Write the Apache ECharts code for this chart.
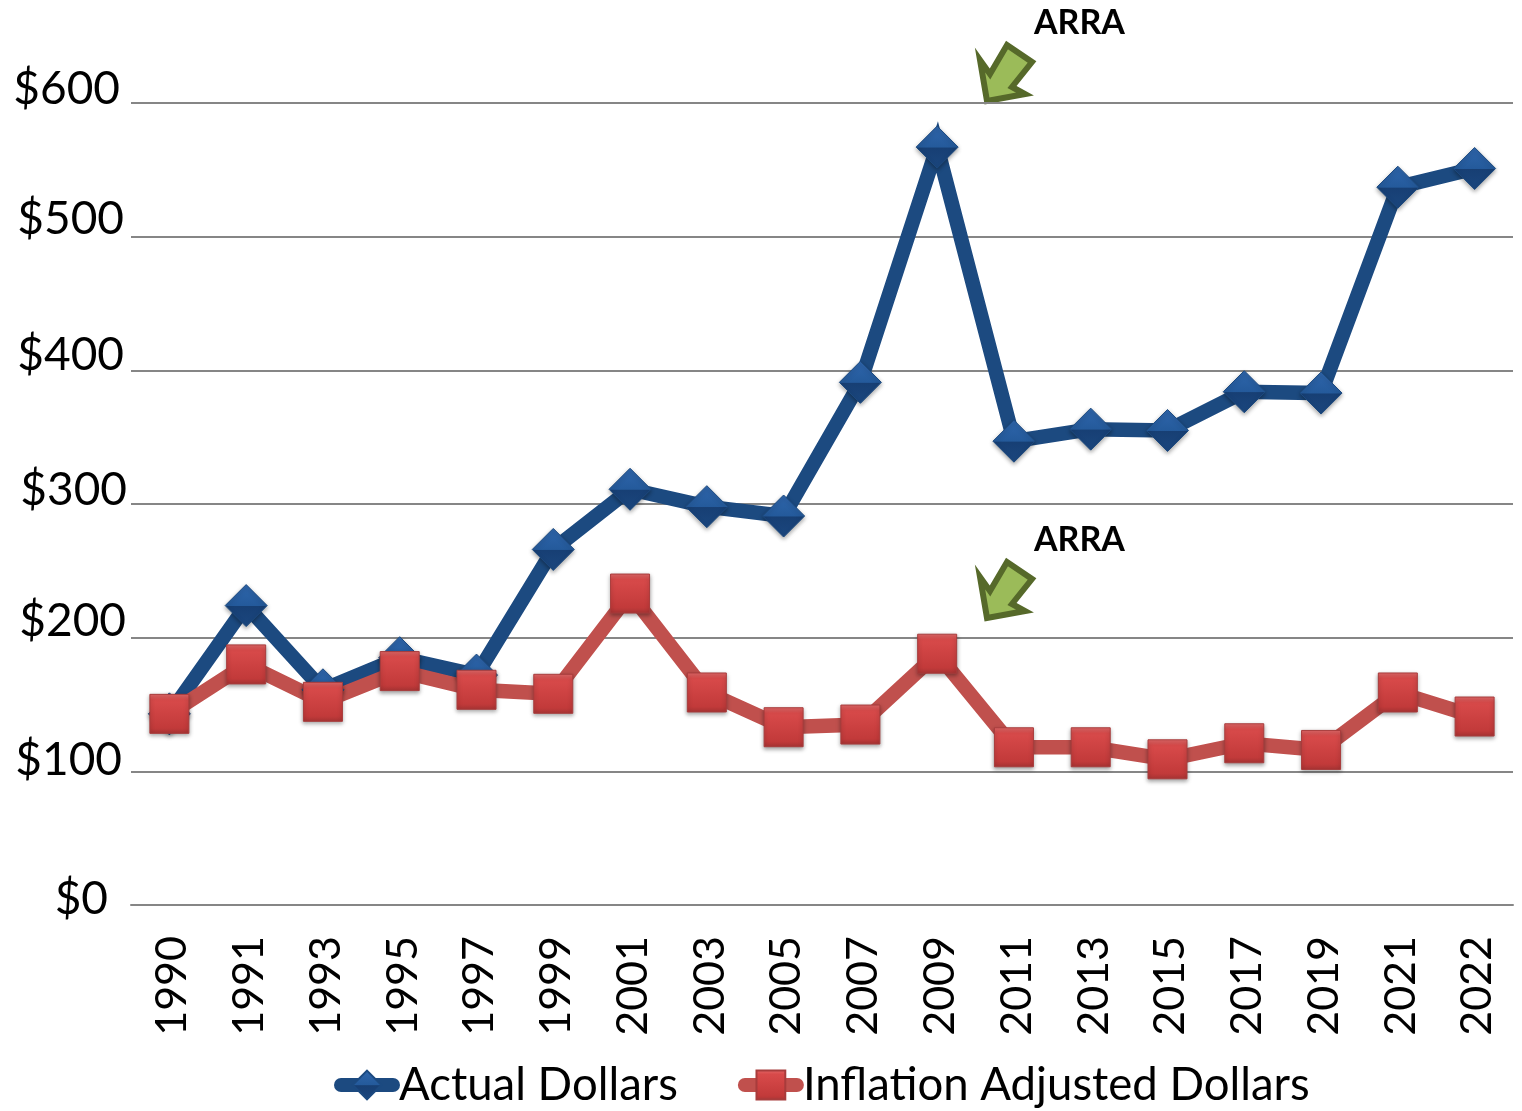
<!DOCTYPE html>
<html><head><meta charset="utf-8">
<style>html,body{margin:0;padding:0;background:#fff}#c{width:1522px;height:1111px}</style>
<script src="https://cdn.jsdelivr.net/npm/echarts@6/dist/echarts.min.js"></script>
</head><body><div id="c"></div>
<script>
const categories=['1990','1991','1993','1995','1997','1999','2001','2003','2005','2007','2009','2011','2013','2015','2017','2019','2021','2022'];
const actualDollars=[143,224,161,185,172,266,311,298,291,391,567,347,356,355,384,383,537,551];
const inflationAdjusted=[143,180,152,175,161,158,233,159,133,135,188,118,118,109,121,116,159,141];
const tickRich={
  v600:{padding:[0,11,28,0]},v500:{padding:[0,7,34,0]},v400:{padding:[0,7,30,0]},
  v300:{padding:[0,4,28,0]},v200:{padding:[0,5,32,0]},v100:{padding:[0,9,22,0]},v0:{padding:[0,23,12,0]}
};
const font='Lato, Carlito, sans-serif';
Object.values(tickRich).forEach(s=>{s.fontSize=46;s.fontFamily=font;s.color='#000';});
const arrow=dy=>({type:'polygon',silent:true,shape:{points:[[980,60],[990,74],[1007,45],[1032,62],[1012,87],[1025,94],[987,101]].map(p=>[p[0],p[1]+dy])},
  style:{fill:'#9bbb59',stroke:'#56692a',lineWidth:6,lineJoin:'miter'}});
const label=y=>({type:'text',silent:true,left:1034,top:y,style:{text:'ARRA',fontFamily:font,fontWeight:'bold',fontSize:34,fill:'#000'}});
const blueGrad=new echarts.graphic.LinearGradient(0,0,0,1,[{offset:0,color:'#2f66ac'},{offset:.5,color:'#245a9b'},{offset:.52,color:'#173f74'},{offset:1,color:'#1b477f'}]);
const redGrad=new echarts.graphic.LinearGradient(0,0,0,1,[{offset:0,color:'#e36a6a'},{offset:.15,color:'#d84a4a'},{offset:.85,color:'#c23a3a'},{offset:1,color:'#a83434'}]);
const chart=echarts.init(document.getElementById('c'),null,{renderer:'canvas',width:1522,height:1111});
chart.setOption({
  animation:false,backgroundColor:'#fff',
  grid:{left:131,right:9,top:103,bottom:206,containLabel:false},
  xAxis:{type:'category',data:categories,boundaryGap:true,
    axisLine:{show:true,lineStyle:{color:'#868686',width:2}},axisTick:{show:false},
    axisLabel:{rotate:90,interval:0,margin:31,formatter:v=>'{y|'+v+'}',
      rich:{y:{fontSize:43,fontFamily:font,color:'#000',padding:[6,0,0,0]}}}},
  yAxis:{type:'value',min:0,max:600,interval:100,
    axisLine:{show:false},axisTick:{show:false},
    splitLine:{lineStyle:{color:'#868686',width:2}},
    axisLabel:{margin:0,formatter:v=>'{v'+v+'|$'+v+'}',rich:tickRich}},
  legend:{left:329,top:1057,itemWidth:52,itemHeight:36,itemGap:60,
    lineStyle:{width:14,cap:'round'},
    textStyle:{fontFamily:font,fontSize:45.5,color:'#000',padding:[0,0,0,1]},
    data:['Actual Dollars','Inflation Adjusted Dollars']},
  series:[
    {name:'Actual Dollars',type:'line',data:actualDollars,symbol:'diamond',symbolSize:42,
      lineStyle:{color:'#1c4a80',width:14.5,join:'miter'},
      itemStyle:{color:blueGrad,borderColor:'#1c4a80',borderWidth:1,shadowBlur:4,shadowColor:'rgba(0,0,0,.35)',shadowOffsetY:2}},
    {name:'Inflation Adjusted Dollars',type:'line',data:inflationAdjusted,symbol:'rect',symbolSize:39,
      lineStyle:{color:'#c0504d',width:14.5,join:'miter'},
      itemStyle:{color:redGrad,borderColor:'#a83c3c',borderWidth:1,shadowBlur:4,shadowColor:'rgba(0,0,0,.35)',shadowOffsetY:2}}
  ],
  graphic:[arrow(0),arrow(517),label(6),label(523)]
});
</script></body></html>
